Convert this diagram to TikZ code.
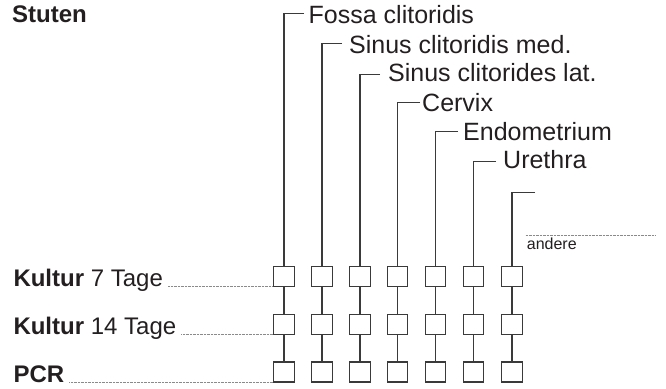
\documentclass[tikz,border=0pt]{standalone}
\usepackage{fontspec}
\setmainfont{Liberation Sans}
\definecolor{linec}{HTML}{3A3A3A}
\definecolor{txt}{HTML}{231F20}
\definecolor{dotc}{HTML}{8A8A8A}
\begin{document}
\begin{tikzpicture}[x=1pt,y=-1pt,
  ln/.style={draw=linec, line width=1.3pt},
  bx/.style={draw=linec, line width=1.4pt, minimum width=20.5pt, minimum height=20pt, inner sep=0pt, fill=white},
  toplab/.style={anchor=base west, inner sep=0pt, font=\fontsize{25}{30}\selectfont, text=txt},
  lab/.style={anchor=base west, inner sep=0pt, font=\fontsize{24}{28}\selectfont, text=txt},
  smalllab/.style={anchor=base west, inner sep=0pt, font=\fontsize{16}{19}\selectfont, text=txt},
  leader/.style={draw=dotc, line width=0.7pt, dash pattern=on 0.7pt off 0.7pt}]
\useasboundingbox (0,0) rectangle (666,388);

% header
\node[lab, font=\fontsize{24}{28}\selectfont\bfseries] (stuten) at (12,22) {Stuten};

% boxes
\foreach \i/\x in {1/284,2/322,3/360,4/397.5,5/435.5,6/473.5,7/512}{
  \foreach \j/\y in {1/276.7,2/324.4,3/372.1}{
    \node[bx] (b\i\j) at (\x,\y) {};
  }
}

% top labels
\node[toplab] (t1) at (308.5,23.3) {Fossa clitoridis};
\node[toplab] (t2) at (349,53.3) {Sinus clitoridis med.};
\node[toplab] (t3) at (388,81.7) {Sinus clitorides lat.};
\node[toplab] (t4) at (422,111) {Cervix};
\node[toplab] (t5) at (463,140) {Endometrium};
\node[toplab] (t6) at (503,168.3) {Urethra};

% tick ends
\coordinate (k1) at (304,13.3);
\coordinate (k2) at (342,43.3);
\coordinate (k3) at (380,74.5);
\coordinate (k4) at (420,102.7);
\coordinate (k5) at (458,131.7);
\coordinate (k6) at (496,161.7);
\coordinate (k7) at (535,192.3);

\foreach \i in {1,...,7}{
  \draw[ln] (k\i) -| (b\i1.north);
  \draw[ln] (b\i1.south) -- (b\i2.north);
  \draw[ln] (b\i2.south) -- (b\i3.north);
}

% andere
\coordinate (a1) at (525.7,235.3);
\coordinate (a2) at (655.7,235.3);
\draw[leader] (a1) -- (a2);
\node[smalllab] (andere) at (526.7,249) {andere};

% left labels
\node[lab] (l1) at (13.3,286) {\textbf{Kultur} 7 Tage};
\node[lab] (l2) at (13.3,334.8) {\textbf{Kultur} 14 Tage};
\node[lab] (l3) at (13.3,382) {\textbf{PCR}};
\draw[leader] ([xshift=5pt]l1.base east) -- (l1.base east -| b11.west);
\draw[leader] ([xshift=5pt]l2.base east) -- (l2.base east -| b12.west);
\draw[leader] ([xshift=5pt]l3.base east) -- (l3.base east -| b13.west);
\end{tikzpicture}
\end{document}
